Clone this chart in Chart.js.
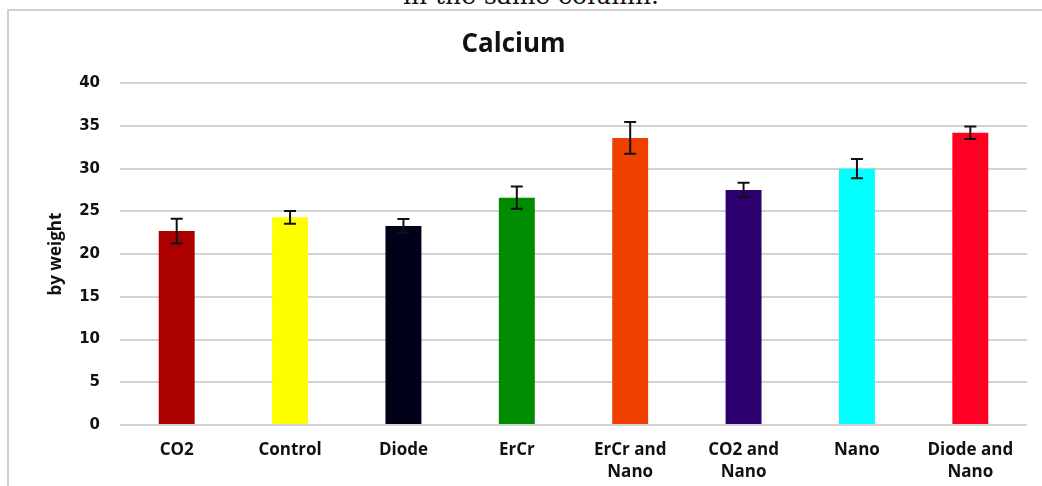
<!DOCTYPE html>
<html>
<head>
<meta charset="utf-8">
<script src="https://cdn.jsdelivr.net/npm/chart.js@4.4.0/dist/chart.umd.min.js"></script>
<style>
  html, body { margin: 0; padding: 0; background: #fff; }
  body { width: 1042px; height: 486px; position: relative; overflow: hidden; }
  #caption {
    position: absolute; left: 0; width: 1062px; top: -16px;
    text-align: center; font-family: "DejaVu Serif", serif; font-size: 25px; line-height: 24px; color: #111;
  }
  #frame {
    position: absolute; left: 7px; top: 9px; right: -10px; bottom: -10px;
    border-left: 2px solid #d0d0d0; border-top: 2px solid #d0d0d0;
  }
  #wrap { position: absolute; left: 0; top: 0; width: 1042px; height: 486px; }
</style>
</head>
<body>
<div id="caption">in the same column.</div>
<div id="frame"></div>
<div id="wrap"><canvas id="calciumChart"></canvas></div>
<script>
  // dados
  const categories = ['CO2', 'Control', 'Diode', 'ErCr', ['ErCr and', 'Nano'], ['CO2 and', 'Nano'], 'Nano', ['Diode and', 'Nano']];
  const calciumValues = [22.7, 24.3, 23.3, 26.6, 33.6, 27.5, 30.0, 34.2];
  const calciumErrors = [1.45, 0.75, 0.8, 1.3, 1.85, 0.85, 1.13, 0.73];
  const barColors = ['#aa0000', '#ffff00', '#000018', '#008c00', '#f04000', '#2d0070', '#00ffff', '#ff0022'];
  const yTicks = [0, 5, 10, 15, 20, 25, 30, 35, 40];

  // Plugin simples para as barras de erro
  const errorBarsPlugin = {
    id: 'errorBars',
    afterDatasetsDraw(chart) {
      const ctx = chart.ctx;
      const meta = chart.getDatasetMeta(0);
      const yScale = chart.scales.y;
      ctx.save();
      ctx.strokeStyle = '#111';
      ctx.lineWidth = 2;
      meta.data.forEach((bar, i) => {
        const v = calciumValues[i];
        const e = calciumErrors[i];
        const yTop = yScale.getPixelForValue(v + e);
        const yBot = yScale.getPixelForValue(v - e);
        const x = bar.x;
        ctx.beginPath();
        ctx.moveTo(x, yTop); ctx.lineTo(x, yBot);
        ctx.moveTo(x - 6, yTop); ctx.lineTo(x + 6, yTop);
        ctx.moveTo(x - 6, yBot); ctx.lineTo(x + 6, yBot);
        ctx.stroke();
      });
      ctx.restore();
    }
  };

  new Chart(document.getElementById('calciumChart'), {
    type: 'bar',
    data: {
      labels: categories,
      datasets: [{
        data: calciumValues,
        backgroundColor: barColors,
        borderWidth: 0,
        barPercentage: 1,
        categoryPercentage: 0.317
      }]
    },
    plugins: [errorBarsPlugin],
    options: {
      responsive: true,
      maintainAspectRatio: false,
      animation: false,
      layout: { padding: { left: 0, right: 15, top: 0, bottom: 0 } },
      plugins: {
        legend: { display: false },
        tooltip: { enabled: false },
        title: {
          display: true,
          text: 'Calcium',
          color: '#111',
          font: { family: '"Open Sans", sans-serif', size: 26, weight: 'bold', lineHeight: 1.2 },
          padding: { top: 29, bottom: 23 }
        }
      },
      scales: {
        x: {
          grid: { display: false, drawTicks: false },
          border: { display: false },
          ticks: {
            color: '#111',
            padding: 15,
            maxRotation: 0,
            autoSkip: false,
            font: { family: '"Open Sans", sans-serif', size: 17, weight: 'bold', lineHeight: 1.25 }
          },
          afterFit(scale) { scale.height = 61; }
        },
        y: {
          min: 0,
          max: 40,
          afterBuildTicks(scale) { scale.ticks = yTicks.map(v => ({ value: v })); },
          grid: { color: '#d2d2d2', lineWidth: 2, drawTicks: false },
          border: { display: false },
          ticks: {
            color: '#111',
            padding: 20,
            font: { family: '"DejaVu Sans", sans-serif', size: 15, weight: 'bold' }
          },
          title: {
            display: true,
            text: 'by weight',
            color: '#111',
            font: { family: '"Open Sans", sans-serif', size: 17, weight: 'bold' },
            padding: { top: 46, bottom: 0 }
          },
          afterFit(scale) { scale.width = 120; }
        }
      }
    }
  });
</script>
</body>
</html>
